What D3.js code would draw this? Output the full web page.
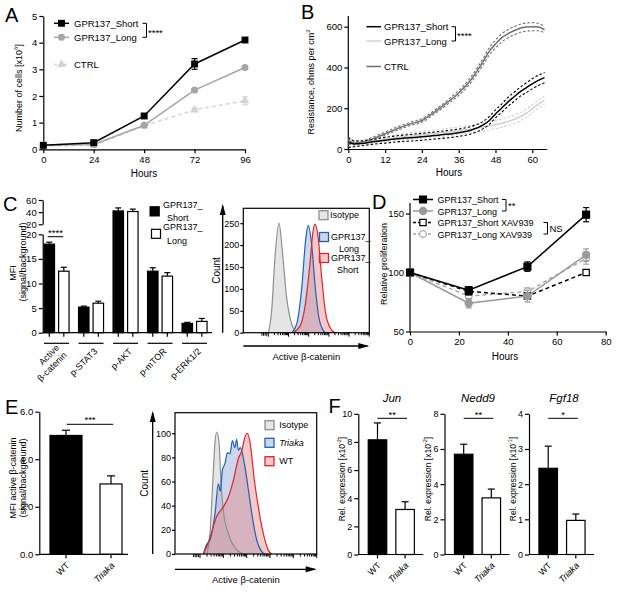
<!DOCTYPE html>
<html lang="en">
<head>
<meta charset="UTF-8">
<title>GPR137 figure</title>
<script src="https://d3js.org/d3.v7.min.js"></script>
<style>
  html, body { margin: 0; padding: 0; background: #fff; }
  svg { display: block; font-family: "Liberation Sans", Arial, sans-serif; }
</style>
</head>
<body>
<div id="fig"></div>
<script>
// ---------- data ----------
// A: cell number (x10^6)
const hoursA = [0, 24, 48, 72, 96];
const shortA = [0.15, 0.25, 1.25, 3.2, 4.1];
const shortAErr = [0.03, 0.04, 0.07, 0.2, 0.09];
const longA = [0.15, 0.18, 0.9, 2.22, 3.07];
const longAErr = [0.02, 0.03, 0.05, 0.05, 0.06];
const ctrlA = [0.12, 0.15, 0.88, 1.48, 1.82];
const ctrlAErr = [0.02, 0.03, 0.05, 0.06, 0.15];

// B: resistance (ohms per cm2)
const hoursB = [0, 2, 4, 8, 12, 16, 20, 24, 28, 32, 36, 40, 44, 46, 48, 50, 52, 54, 56, 58, 60, 62, 64];
const shortB = [32, 25, 27, 35, 43, 50, 55, 60, 66, 72, 80, 92, 118, 140, 172, 200, 230, 255, 280, 300, 320, 337, 350];
const shortBsd = [24, 14, 12, 12, 14, 15, 16, 17, 17, 18, 18, 18, 18, 19, 20, 20, 22, 22, 22, 24, 25, 25, 25];
const longB = [30, 25, 28, 38, 48, 57, 64, 70, 76, 82, 90, 98, 108, 114, 120, 126, 135, 145, 158, 175, 198, 220, 240];
const longBsd = [20, 12, 10, 10, 12, 14, 15, 16, 17, 18, 18, 18, 19, 19, 20, 20, 20, 20, 20, 20, 20, 20, 20];
const ctrlB = [42, 30, 32, 50, 75, 100, 122, 140, 180, 225, 275, 340, 430, 480, 515, 545, 565, 580, 592, 598, 600, 598, 585];
const ctrlBsd = [18, 10, 8, 8, 8, 8, 8, 9, 9, 10, 12, 14, 16, 18, 20, 20, 20, 20, 20, 20, 20, 18, 15];

// C: MFI bars
const catsC = ["Active\nβ-catenin", "p-STAT3", "p-AKT", "p-mTOR", "p-ERK1/2"];
const shortC = [18.0, 5.2, 42, 12.5, 1.9];
const shortCErr = [0.4, 0.2, 5, 0.7, 0.2];
const longC = [12.5, 6.0, 41, 11.5, 2.3];
const longCErr = [0.8, 0.4, 4, 0.7, 0.6];

// C: histogram (channel 0-100, count)
const isoCx = [19.8, 22.5, 25.1, 28.3, 31.2, 34.4, 38.4, 42.4];
const isoC = [0, 50, 170, 250, 180, 80, 20, 0];
const longCx = [38.4, 42.4, 46.3, 49.8, 51.6, 54.3, 56.9, 60.3, 64.8];
const longCh = [0, 20, 100, 220, 245, 200, 110, 30, 0];
const shortCx = [39.5, 45, 49, 53, 55.3, 56.9, 59.3, 62.4, 65.6, 70.4, 73.6];
const shortCh = [0, 15, 60, 160, 230, 248, 220, 120, 40, 5, 0];

// D: relative proliferation
const hoursD = [0, 24, 48, 72];
const shortD = [100, 85, 105, 149];
const shortDErr = [1, 3, 4, 6];
const longD = [100, 74, 80, 115];
const longDErr = [1, 4, 5, 5];
const shortXD = [100, 84, 80, 100];
const shortXDErr = [1, 3, 2, 2];
const longXD = [100, 80, 84, 112];
const longXDErr = [1, 3, 3, 5];

// E: MFI active beta-catenin
const groupsE = ["WT", "Triaka"];
const mfiE = [5.0, 2.96];
const mfiEErr = [0.22, 0.34];

// E: histogram
const isoEx = [22.4, 24.7, 26.6, 28.2, 29.4, 31.1, 32.5, 34.1, 37.6, 42.3, 48.2];
const isoE = [0, 17, 58, 92, 101, 92, 58, 36, 17, 5, 0];
const triEx = [20.0, 22.4, 24.8, 28.3, 30.6, 32.0, 33.5, 35.3, 37.0, 38.8, 40.5, 42.3, 43.5, 44.7, 46.0, 47.0, 49.4, 51.8, 54.1, 57.6, 61.2, 63.5];
const triE = [0, 8, 12, 34, 58, 52, 70, 75, 84, 83, 94, 88, 95, 86, 88, 86, 72, 53, 34, 12, 2, 0];
const wtEx = [20.0, 22.4, 24.8, 29.4, 34.1, 37.6, 41.2, 44.7, 47.0, 49.4, 51.0, 53.4, 55.7, 58.8, 62.3, 65.9, 68.2];
const wtE = [0, 6, 14, 31, 39, 47, 61, 79, 85, 97, 100, 89, 64, 39, 17, 3, 0];

// F: relative expression
const genesF = ["Jun", "Nedd9", "Fgf18"];
const expoF = ["-2", "-2", "-1"];
const maxF = [10, 8, 4];
const wtF = [8.15, 5.7, 2.45];
const wtFErr = [1.2, 0.57, 0.63];
const trF = [3.2, 3.22, 0.97];
const trFErr = [0.55, 0.5, 0.18];
const sigF = ["**", "**", "*"];

// ---------- helpers ----------
const FAM = "Liberation Sans, Arial, sans-serif";
const svg = d3.select("#fig").append("svg").attr("width", 617).attr("height", 593);

function styleAxis(g, fs) {
  g.attr("font-family", FAM).attr("font-size", fs || 9.5);
  g.selectAll(".domain").attr("stroke", "#000").attr("stroke-width", 1.2);
  g.selectAll(".tick line").attr("stroke", "#000").attr("stroke-width", 1.2);
  g.selectAll(".tick text").attr("fill", "#000");
}
function letter(t, x, y) {
  svg.append("text").attr("x", x).attr("y", y).attr("font-size", 20).text(t);
}
function txt(g, x, y, s, fs, anchor) {
  return g.append("text").attr("x", x).attr("y", y).attr("font-size", fs || 9.5)
    .attr("text-anchor", anchor || "start").text(s);
}
// rotated axis title: main text, optional superscript, optional tail
function vLabel(g, x, y, main, sup, tail, fs) {
  const f = fs || 9.5;
  const t = g.append("g").attr("transform", `translate(${x},${y}) rotate(-90)`)
    .append("text").attr("text-anchor", "middle").attr("font-size", f);
  t.append("tspan").text(main);
  if (sup) {
    t.append("tspan").attr("font-size", f * 0.65).attr("dy", -4).text(sup);
    t.append("tspan").attr("dy", 4).text(tail);
  }
  return t;
}
function errBar(g, x, y0, y1, w, color) {
  g.append("line").attr("x1", x).attr("x2", x).attr("y1", y0).attr("y2", y1)
    .attr("stroke", color).attr("stroke-width", 1.2);
  g.append("line").attr("x1", x - w / 2).attr("x2", x + w / 2).attr("y1", y1).attr("y2", y1)
    .attr("stroke", color).attr("stroke-width", 1.2);
}
function bracket(g, x, y0, y1) {
  g.append("path").attr("d", `M${x - 4},${y0}H${x}V${y1}H${x - 4}`)
    .attr("fill", "none").attr("stroke", "#000").attr("stroke-width", 1);
}
function arrowLine(g, x0, y0, x1, y1) {
  g.append("line").attr("x1", x0).attr("y1", y0).attr("x2", x1).attr("y2", y1)
    .attr("stroke", "#000").attr("stroke-width", 1.3);
  const a = Math.atan2(y1 - y0, x1 - x0), L = 9, W = 3;
  const p = [[x1 + Math.cos(a) * 2, y1 + Math.sin(a) * 2],
    [x1 - Math.cos(a) * L - Math.sin(a) * W, y1 - Math.sin(a) * L + Math.cos(a) * W],
    [x1 - Math.cos(a) * L + Math.sin(a) * W, y1 - Math.sin(a) * L - Math.cos(a) * W]];
  g.append("path").attr("d", "M" + p.join("L") + "Z").attr("fill", "#000");
}
// 45-degree category label, end-anchored at (x, y)
function rotLabel(g, x, y, s, italic, fs) {
  const lines = s.split("\n");
  const t = g.append("g").attr("transform", `translate(${x},${y}) rotate(-45)`)
    .append("text").attr("text-anchor", "end").attr("font-size", fs || 9.5)
    .attr("font-style", italic ? "italic" : null);
  lines.forEach((l, i) => t.append("tspan").attr("x", 0)
    .attr("y", (i - (lines.length - 1) / 2) * 10.5).text(l));
}
function sym(type, size) { return d3.symbol().type(type).size(size)(); }

// ---------- A ----------
letter("A", 5, 22);
{
  const g = svg.append("g");
  const x = d3.scaleLinear().domain([0, 96]).range([43.3, 245]);
  const y = d3.scaleLinear().domain([0, 5]).range([149.3, 16]);
  g.append("g").attr("transform", "translate(0,149.3)")
    .call(d3.axisBottom(x).tickValues(hoursA).tickSize(4).tickSizeOuter(0).tickPadding(3)).call(styleAxis);
  g.append("g").attr("transform", "translate(43.3,0)")
    .call(d3.axisLeft(y).ticks(5).tickSize(4).tickSizeOuter(0).tickPadding(2)).call(styleAxis);
  txt(g, 144, 177, "Hours", 10, "middle");
  vLabel(g, 22, 88, "Number of cells [x10", "6", "]", 9);

  const series = [
    { v: ctrlA, e: ctrlAErr, c: "#d4d4d4", s: d3.symbolTriangle, size: 34, dash: "4,3" },
    { v: longA, e: longAErr, c: "#a6a6a6", s: d3.symbolCircle, size: 40, dash: null },
    { v: shortA, e: shortAErr, c: "#000", s: d3.symbolSquare, size: 48, dash: null }
  ];
  series.forEach(sr => {
    g.append("path").datum(sr.v)
      .attr("d", d3.line().x((d, i) => x(hoursA[i])).y(d => y(d)))
      .attr("fill", "none").attr("stroke", sr.c).attr("stroke-width", 1.5)
      .attr("stroke-dasharray", sr.dash);
    sr.v.forEach((d, i) => {
      errBar(g, x(hoursA[i]), y(d), y(d + sr.e[i]), 6, sr.c);
      errBar(g, x(hoursA[i]), y(d), y(Math.max(0, d - sr.e[i])), 6, sr.c);
    });
    g.selectAll(null).data(sr.v).enter().append("path")
      .attr("d", sym(sr.s, sr.size))
      .attr("transform", (d, i) => `translate(${x(hoursA[i])},${y(d)})`)
      .attr("fill", sr.c);
  });
  // legend
  const leg = [
    { t: "GPR137_Short", c: "#000", s: d3.symbolSquare, size: 48, y: 23.3, dash: null },
    { t: "GPR137_Long", c: "#a6a6a6", s: d3.symbolCircle, size: 40, y: 37.3, dash: null },
    { t: "CTRL", c: "#d4d4d4", s: d3.symbolTriangle, size: 34, y: 64.5, dash: "3,2" }
  ];
  leg.forEach(l => {
    g.append("line").attr("x1", 54).attr("x2", 69).attr("y1", l.y).attr("y2", l.y)
      .attr("stroke", l.c).attr("stroke-width", 1.5).attr("stroke-dasharray", l.dash);
    g.append("path").attr("d", sym(l.s, l.size)).attr("transform", `translate(61.5,${l.y})`).attr("fill", l.c);
    txt(g, 74, l.y + 3.5, l.t, 9.5);
  });
  bracket(g, 146.5, 23.3, 37.3);
  txt(g, 148, 35.5, "****", 9.5);
}

// ---------- B ----------
letter("B", 301, 19);
{
  const g = svg.append("g");
  const x = d3.scaleLinear().domain([0, 64.7]).range([348.3, 546.7]);
  const y = d3.scaleLinear().domain([0, 600]).range([149, 26.7]);
  g.append("g").attr("transform", "translate(0,149)")
    .call(d3.axisBottom(x).tickValues([0, 12, 24, 36, 48, 60]).tickSize(4).tickSizeOuter(0).tickPadding(3)).call(styleAxis);
  const ya = g.append("g").attr("transform", "translate(348.3,0)")
    .call(d3.axisLeft(y).tickValues([0, 200, 400, 600]).tickSize(4).tickSizeOuter(0).tickPadding(2)).call(styleAxis);
  ya.select(".domain").attr("d", "M0,149V16");
  txt(g, 449, 176, "Hours", 10, "middle");
  vLabel(g, 314, 82, "Resistance, ohms per cm", "2", "", 9);

  const line = d3.line().curve(d3.curveMonotoneX).x((d, i) => x(hoursB[i])).y(d => y(d));
  const series = [
    { v: ctrlB, sd: ctrlBsd, c: "#6f6f6f" },
    { v: longB, sd: longBsd, c: "#d0d0d0" },
    { v: shortB, sd: shortBsd, c: "#000" }
  ];
  series.forEach(sr => {
    [1, -1].forEach(sg => {
      g.append("path").datum(sr.v.map((d, i) => d + sg * sr.sd[i])).attr("d", line)
        .attr("fill", "none").attr("stroke", sr.c).attr("stroke-width", 1.1).attr("stroke-dasharray", "2.5,2");
    });
    g.append("path").datum(sr.v).attr("d", line)
      .attr("fill", "none").attr("stroke", sr.c).attr("stroke-width", 1.5);
  });
  const leg = [
    { t: "GPR137_Short", c: "#000", y: 26.7 },
    { t: "GPR137_Long", c: "#d0d0d0", y: 41 },
    { t: "CTRL", c: "#6f6f6f", y: 66.5 }
  ];
  leg.forEach(l => {
    g.append("line").attr("x1", 366.5).attr("x2", 381).attr("y1", l.y).attr("y2", l.y)
      .attr("stroke", l.c).attr("stroke-width", 1.5);
    txt(g, 384, l.y + 3.5, l.t, 9.5);
  });
  bracket(g, 455.5, 26.7, 41);
  txt(g, 457, 39, "****", 9.5);
}

// ---------- C bars ----------
letter("C", 3, 211);
{
  const g = svg.append("g");
  const yLo = d3.scaleLinear().domain([0, 20]).range([332.7, 234.3]);
  const yHi = d3.scaleLinear().domain([20, 60]).range([224.3, 200]);
  const ax = 42.7;
  g.append("g").attr("transform", `translate(${ax},0)`)
    .call(d3.axisLeft(yLo).tickValues([0, 5, 10, 15, 20]).tickSize(4).tickSizeOuter(0).tickPadding(2)).call(styleAxis);
  g.append("g").attr("transform", `translate(${ax},0)`)
    .call(d3.axisLeft(yHi).tickValues([20, 40, 60]).tickSize(4).tickSizeOuter(0).tickPadding(2)).call(styleAxis);
  vLabel(g, 16, 273, "MFI", null, null, 9);
  vLabel(g, 26, 262, "(signal/background)", null, null, 9);

  const xg = d3.scaleBand().domain(catsC).range([39.3, 211.8]);
  const xs = d3.scaleBand().domain(["s", "l"]).range([-12.5, 12.5]).paddingInner(0.28);
  const yv = v => v <= 20 ? yLo(v) : yHi(v);
  catsC.forEach((c, i) => {
    const cx = xg(c) + xg.bandwidth() / 2;
    [["s", shortC[i], shortCErr[i], "#000"], ["l", longC[i], longCErr[i], "#fff"]].forEach(b => {
      const bx = cx + xs(b[0]);
      errBar(g, bx + xs.bandwidth() / 2, yv(b[1]), yv(b[1] + b[2]), 6, "#000");
      g.append("rect").attr("x", bx).attr("y", yv(b[1])).attr("width", xs.bandwidth())
        .attr("height", yLo(0) - yv(b[1])).attr("fill", b[3]).attr("stroke", "#000").attr("stroke-width", 1.2);
    });
    [xs("s"), xs("l")].forEach(o => g.append("line")
      .attr("x1", cx + o + xs.bandwidth() / 2).attr("x2", cx + o + xs.bandwidth() / 2)
      .attr("y1", 332.7).attr("y2", 336.7).attr("stroke", "#000").attr("stroke-width", 1.2));
    g.append("line").attr("x1", cx - 12.5).attr("x2", cx + 12.5).attr("y1", 343.3).attr("y2", 343.3)
      .attr("stroke", "#000").attr("stroke-width", 1.2);
    rotLabel(g, cx + 7, 352, c, false, 9);
  });
  g.append("line").attr("x1", ax).attr("x2", 212).attr("y1", 332.7).attr("y2", 332.7)
    .attr("stroke", "#000").attr("stroke-width", 1.2);
  g.append("line").attr("x1", 47.7).attr("x2", 63.3).attr("y1", 236.7).attr("y2", 236.7)
    .attr("stroke", "#000").attr("stroke-width", 1);
  txt(g, 55.5, 236, "****", 9.5, "middle");
  // legend
  g.append("rect").attr("x", 150).attr("y", 206.7).attr("width", 9.3).attr("height", 9.3).attr("fill", "#000").attr("stroke", "#000");
  g.append("rect").attr("x", 151.5).attr("y", 229.3).attr("width", 9).attr("height", 9).attr("fill", "#fff").attr("stroke", "#000").attr("stroke-width", 1.2);
  txt(g, 163, 207.5, "GPR137_", 9);
  txt(g, 167, 221, "Short", 9);
  txt(g, 163, 230, "GPR137_", 9);
  txt(g, 167, 243.5, "Long", 9);
}

// ---------- histogram helper ----------
function histPanel(box, yMax, yTicks, hists, legend) {
  const g = svg.append("g");
  const x = d3.scaleLinear().domain([0, 100]).range([box.l, box.r]);
  const y = d3.scaleLinear().domain([0, yMax]).range([box.b, box.t]);
  const area = d3.area().curve(d3.curveMonotoneX).x(d => x(d[0])).y0(box.b).y1(d => y(d[1]));
  const line = d3.line().curve(d3.curveMonotoneX).x(d => x(d[0])).y(d => y(d[1]));
  hists.forEach(h => {
    const pts = h.x.map((v, i) => [v, h.v[i]]);
    g.append("path").datum(pts).attr("d", area).attr("fill", h.fill).attr("fill-opacity", h.op);
  });
  hists.forEach(h => {
    const pts = h.x.map((v, i) => [v, h.v[i]]);
    g.append("path").datum(pts).attr("d", line).attr("fill", "none").attr("stroke", h.stroke).attr("stroke-width", 1.2);
  });
  g.append("rect").attr("x", box.l).attr("y", box.t).attr("width", box.r - box.l).attr("height", box.b - box.t)
    .attr("fill", "none").attr("stroke", "#000").attr("stroke-width", 1.2);
  g.append("g").attr("transform", `translate(${box.l},0)`)
    .call(d3.axisLeft(y).tickValues(yTicks).tickSize(3).tickSizeOuter(0).tickPadding(1)).call(styleAxis, 9)
    .select(".domain").remove();
  // log decade ticks on bottom edge
  const lx = d3.scaleLog().domain([1, 1e5]).range([box.l + 25, box.r]);
  lx.ticks().forEach(t => {
    const major = Math.abs(Math.log10(t) - Math.round(Math.log10(t))) < 1e-6;
    g.append("line").attr("x1", lx(t)).attr("x2", lx(t)).attr("y1", box.b).attr("y2", box.b + (major ? 4 : 2.5))
      .attr("stroke", "#000").attr("stroke-width", 1);
  });
  [0.2, 0.4, 0.6, 0.8].forEach(f => {
    const xx = box.l + 25 - f * 8;
    g.append("line").attr("x1", xx).attr("x2", xx).attr("y1", box.b).attr("y2", box.b + 3)
      .attr("stroke", "#000").attr("stroke-width", 1);
  });
  arrowLine(g, box.axX, box.b, box.axX, box.axTop);
  arrowLine(g, box.l, box.xAxY, box.r - 2, box.xAxY);
  vLabel(g, box.cntX, (box.t + box.b) / 2, "Count", null, null, 10);
  txt(g, (box.l + box.r) / 2, box.xAxY + 14, "Active β-catenin", 9.5, "middle");
  legend.forEach(l => {
    g.append("rect").attr("x", l.x).attr("y", l.y).attr("width", 9).attr("height", 9)
      .attr("fill", l.fill).attr("fill-opacity", l.op).attr("stroke", l.stroke).attr("stroke-width", 1.3);
    l.lines.forEach((s, i) => {
      const t = txt(g, l.tx + (i ? l.ind : 0), l.y + 7.5 + i * 11.5, s, 9);
      if (l.italic) t.attr("font-style", "italic");
    });
  });
}

const ISO = { fill: "#cfcfcf", op: 0.55, stroke: "#8f8f8f" };
const BLUE = { fill: "#8ea4d6", op: 0.45, stroke: "#1f62b4" };
const RED = { fill: "#e58a88", op: 0.45, stroke: "#d8262b" };

histPanel({ l: 243.3, r: 369.3, t: 208.3, b: 332.7, axX: 222.7, axTop: 206, xAxY: 346, cntX: 220 }, 284, [0, 50, 100, 150, 200, 250],
  [Object.assign({ x: isoCx, v: isoC }, ISO), Object.assign({ x: longCx, v: longCh }, BLUE), Object.assign({ x: shortCx, v: shortCh }, RED)],
  [Object.assign({ x: 319, y: 210.7, tx: 330, ind: 0, lines: ["Isotype"] }, ISO),
   Object.assign({ x: 319.5, y: 232.5, tx: 331, ind: 8, lines: ["GPR137_", "Long"] }, BLUE),
   Object.assign({ x: 319.5, y: 253.5, tx: 331, ind: 6, lines: ["GPR137_", "Short"] }, RED)]);

// ---------- D ----------
letter("D", 372, 209);
{
  const g = svg.append("g");
  const x = d3.scaleLinear().domain([0, 80]).range([410, 605.7]);
  const y = d3.scaleLinear().domain([50, 150]).range([331.5, 213.5]);
  g.append("g").attr("transform", "translate(0,331.5)")
    .call(d3.axisBottom(x).tickValues([0, 20, 40, 60, 80]).tickSize(4).tickSizeOuter(0).tickPadding(3)).call(styleAxis);
  const ya = g.append("g").attr("transform", "translate(410,0)")
    .call(d3.axisLeft(y).tickValues([50, 100, 150]).tickSize(4).tickSizeOuter(0).tickPadding(2)).call(styleAxis);
  ya.select(".domain").attr("d", "M0,331.5V203");
  txt(g, 505, 360, "Hours", 10, "middle");
  vLabel(g, 387, 264, "Relative proliferation", null, null, 9);

  const series = [
    { v: longXD, e: longXDErr, c: "#a8a8a8", s: d3.symbolCircle, size: 36, fill: "#fff", dash: "4,3" },
    { v: shortXD, e: shortXDErr, c: "#000", s: d3.symbolSquare, size: 40, fill: "#fff", dash: "4,3" },
    { v: longD, e: longDErr, c: "#999", s: d3.symbolCircle, size: 40, fill: "#999", dash: null },
    { v: shortD, e: shortDErr, c: "#000", s: d3.symbolSquare, size: 48, fill: "#000", dash: null }
  ];
  series.forEach(sr => {
    g.append("path").datum(sr.v).attr("d", d3.line().x((d, i) => x(hoursD[i])).y(d => y(d)))
      .attr("fill", "none").attr("stroke", sr.c).attr("stroke-width", 1.5).attr("stroke-dasharray", sr.dash);
    sr.v.forEach((d, i) => {
      errBar(g, x(hoursD[i]), y(d), y(d + sr.e[i]), 6, sr.c);
      errBar(g, x(hoursD[i]), y(d), y(d - sr.e[i]), 6, sr.c);
    });
    g.selectAll(null).data(sr.v).enter().append("path").attr("d", sym(sr.s, sr.size))
      .attr("transform", (d, i) => `translate(${x(hoursD[i])},${y(d)})`)
      .attr("fill", sr.fill).attr("stroke", sr.c).attr("stroke-width", 1.2);
  });
  const leg = [
    { t: "GPR137_Short", y: 199.5, sr: series[3] },
    { t: "GPR137_Long", y: 211, sr: series[2] },
    { t: "GPR137_Short XAV939", y: 222.5, sr: series[1] },
    { t: "GPR137_Long XAV939", y: 234, sr: series[0] }
  ];
  leg.forEach(l => {
    g.append("line").attr("x1", 413).attr("x2", 433).attr("y1", l.y).attr("y2", l.y)
      .attr("stroke", l.sr.c).attr("stroke-width", 1.5).attr("stroke-dasharray", l.sr.dash ? "3,2" : null);
    g.append("path").attr("d", sym(l.sr.s, l.sr.size)).attr("transform", `translate(423,${l.y})`)
      .attr("fill", l.sr.fill).attr("stroke", l.sr.c).attr("stroke-width", 1.2);
    txt(g, 437.5, l.y + 3.5, l.t, 9);
  });
  bracket(g, 506, 199.5, 211);
  txt(g, 508, 209, "**", 9.5);
  bracket(g, 547.5, 222.5, 234);
  txt(g, 549.5, 232, "NS", 9.5);
}

// ---------- E bars ----------
letter("E", 5, 414);
{
  const g = svg.append("g");
  const y = d3.scaleLinear().domain([0, 6]).range([554.3, 411.7]);
  const x = d3.scalePoint().domain(groupsE).range([66, 111]);
  const widths = [32, 22];
  g.append("g").attr("transform", "translate(39.3,0)")
    .call(d3.axisLeft(y).tickValues([0, 2, 4, 6]).tickSize(4).tickSizeOuter(0).tickPadding(2)).call(styleAxis);
  groupsE.forEach((k, i) => {
    errBar(g, x(k), y(mfiE[i]), y(mfiE[i] + mfiEErr[i]), 8, "#000");
    g.append("rect").attr("x", x(k) - widths[i] / 2).attr("y", y(mfiE[i])).attr("width", widths[i])
      .attr("height", y(0) - y(mfiE[i])).attr("fill", i ? "#fff" : "#000").attr("stroke", "#000").attr("stroke-width", 1.2);
    g.append("line").attr("x1", x(k)).attr("x2", x(k)).attr("y1", 554.3).attr("y2", 558.3).attr("stroke", "#000").attr("stroke-width", 1.2);
    rotLabel(g, x(k) + 4, 566, k, i === 1, 9);
  });
  g.append("line").attr("x1", 39.3).attr("x2", 128).attr("y1", 554.3).attr("y2", 554.3).attr("stroke", "#000").attr("stroke-width", 1.2);
  g.append("line").attr("x1", 66.7).attr("x2", 113.3).attr("y1", 424.3).attr("y2", 424.3).attr("stroke", "#000").attr("stroke-width", 1);
  txt(g, 90, 423, "***", 9.5, "middle");
  vLabel(g, 16, 478, "MFI active β-catenin", null, null, 9);
  vLabel(g, 26, 478, "(signal/background)", null, null, 9);
}

histPanel({ l: 175, r: 316.7, t: 412.7, b: 554, axX: 152.7, axTop: 413, xAxY: 569.3, cntX: 148 }, 117, [0, 20, 40, 60, 80, 100],
  [Object.assign({ x: isoEx, v: isoE }, ISO), Object.assign({ x: triEx, v: triE }, BLUE), Object.assign({ x: wtEx, v: wtE }, RED)],
  [Object.assign({ x: 265, y: 420.7, tx: 279.3, ind: 0, lines: ["Isotype"] }, ISO),
   Object.assign({ x: 265, y: 438.3, tx: 279.3, ind: 0, lines: ["Triaka"], italic: true }, BLUE),
   Object.assign({ x: 265, y: 456.7, tx: 279.3, ind: 0, lines: ["WT"] }, RED)]);

// ---------- F ----------
letter("F", 328.5, 413);
{
  const axes = [358.3, 444.5, 529];
  const labX = [341.7, 428.3, 513.3];
  const titleX = [392, 478, 564];
  genesF.forEach((gene, k) => {
    const g = svg.append("g");
    const ax = axes[k];
    const y = d3.scaleLinear().domain([0, maxF[k]]).range([554.5, 413.8]);
    const x = d3.scaleBand().domain(groupsE).range([ax, ax + 66]).paddingInner(0.33).paddingOuter(0.36);
    g.append("g").attr("transform", `translate(${ax},0)`)
      .call(d3.axisLeft(y).ticks(maxF[k] === 4 ? 4 : 5).tickSize(4).tickSizeOuter(0).tickPadding(2)).call(styleAxis, 9);
    const vals = [wtF[k], trF[k]], errs = [wtFErr[k], trFErr[k]];
    groupsE.forEach((grp, i) => {
      const cx = x(grp) + x.bandwidth() / 2;
      errBar(g, cx, y(vals[i]), y(vals[i] + errs[i]), 7, "#000");
      g.append("rect").attr("x", x(grp)).attr("y", y(vals[i])).attr("width", x.bandwidth())
        .attr("height", y(0) - y(vals[i])).attr("fill", i ? "#fff" : "#000").attr("stroke", "#000").attr("stroke-width", 1.2);
      g.append("line").attr("x1", cx).attr("x2", cx).attr("y1", 554.5).attr("y2", 558.5).attr("stroke", "#000").attr("stroke-width", 1.2);
      rotLabel(g, cx + 4, 566, grp, i === 1, 9);
    });
    g.append("line").attr("x1", ax).attr("x2", ax + 65).attr("y1", 554.5).attr("y2", 554.5).attr("stroke", "#000").attr("stroke-width", 1.2);
    const c0 = x(groupsE[0]) + x.bandwidth() / 2, c1 = x(groupsE[1]) + x.bandwidth() / 2;
    g.append("line").attr("x1", c0).attr("x2", c1 + 2).attr("y1", 418.3).attr("y2", 418.3).attr("stroke", "#000").attr("stroke-width", 1);
    txt(g, (c0 + c1) / 2 + 1, 417.5, sigF[k], 9.5, "middle");
    txt(g, titleX[k], 401.5, gene, 11.5, "middle").attr("font-style", "italic");
    vLabel(g, labX[k] + 3, 479, "Rel. expression [x10", expoF[k], "]", 8.5);
  });
}
</script>
</body>
</html>
